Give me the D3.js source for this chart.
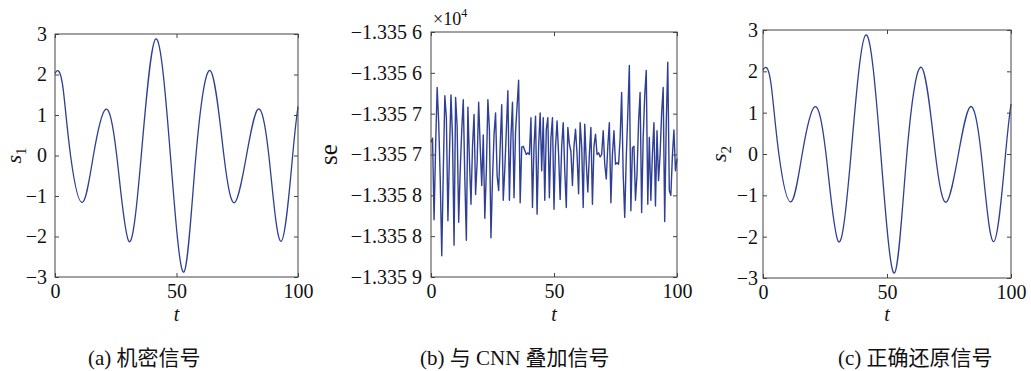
<!DOCTYPE html>
<html>
<head>
<meta charset="utf-8">
<script src="https://cdn.jsdelivr.net/npm/d3@7"></script>
<style>
  body { margin: 0; background: #fff; }
  svg text { font-family: "Liberation Serif", "Times New Roman", Times, serif !important; fill: #111; }
  svg text.cap { font-family: "Liberation Serif", "Noto Sans CJK SC", serif !important; }
</style>
</head>
<body>
<svg id="chart" width="1031" height="371"></svg>
<script>
// (a) secret signal s1, read at its turning points and zero crossings
const s1T = [0, 1.4, 3.4, 6.4, 11.2, 15.8, 20.8, 25.4, 30.4, 35.5, 41.5, 47.5, 53.0, 58.0, 64.0, 69.5, 74.0, 78.8, 83.5, 88.0, 93.0, 97.8, 100];
const s1V = [2.03, 2.09, 1.62, 0, -1.16, 0, 1.14, 0, -2.12, 0, 2.88, 0, -2.88, 0, 2.09, 0, -1.16, 0, 1.14, 0, -2.12, 0, 1.21];
// (c) recovered signal s2 - same shape as s1
const s2T = [0, 1.4, 3.4, 6.4, 11.2, 15.8, 20.8, 25.4, 30.4, 35.5, 41.5, 47.5, 53.0, 58.0, 64.0, 69.5, 74.0, 78.8, 83.5, 88.0, 93.0, 97.8, 100];
const s2V = [2.03, 2.09, 1.62, 0, -1.16, 0, 1.14, 0, -2.12, 0, 2.88, 0, -2.88, 0, 2.09, 0, -1.16, 0, 1.14, 0, -2.12, 0, 1.21];

// (b) signal mixed with CNN, sampled every seStep
const seStep = 0.625;
const seV = [
  -13356.85, -13356.8, -13357.8, -13356.9, -13356.18, -13356.61, -13357.3, -13358.24, -13357.2, -13356.28,
  -13356.55, -13357.81, -13357, -13356.27, -13356.8, -13358.11, -13356.3, -13356.65, -13357.83, -13357.2,
  -13356.7, -13356.33, -13357.3, -13358.05, -13356.42, -13357.07, -13357.61, -13356.9, -13356.51, -13357.49,
  -13357.1, -13356.36, -13356.9, -13357.38, -13356.76, -13357.78, -13357.2, -13356.33, -13356.7, -13358.02,
  -13357.3,
  -13356.76, -13356.49, -13357.26, -13357.44, -13356.9, -13356.39, -13357.56, -13357.18, -13356.7, -13356.22,
  -13357.56, -13356.78, -13356.36, -13357.53, -13356.72, -13356.4, -13356.09, -13357.59, -13356.91, -13356.9,
  -13356.95, -13357, -13356.98, -13357, -13356.55, -13357.65, -13356.9, -13356.53, -13357.73, -13356.9,
  -13356.49, -13357.2, -13356.55, -13357.56, -13356.69, -13356.55, -13357.53, -13356.8, -13356.55, -13357.67,
  -13356.9,
  -13356.59, -13357, -13357.55, -13356.9, -13356.61, -13357.2, -13357.65, -13356.67, -13356.87, -13356.96,
  -13357.38, -13356.9, -13356.69, -13357, -13357.48, -13356.61, -13356.9, -13357.65, -13356.63, -13357.1,
  -13357.46, -13357, -13356.67, -13357.61, -13356.9, -13356.75, -13357, -13356.98, -13357.03, -13357,
  -13356.71, -13357.12, -13357.3, -13356.9, -13356.61, -13357.59, -13357, -13356.71, -13357.12, -13357.1,
  -13357.12,
  -13356.8, -13356.24, -13357.24, -13357.77, -13357.04, -13356.5, -13355.91, -13357.69, -13356.92, -13356.9,
  -13357.56, -13357.24, -13356.6, -13356.24, -13357.71, -13356.8, -13356.28, -13355.97, -13357.61, -13356.79,
  -13357.56, -13357, -13356.61, -13357.63, -13356.71, -13357.32, -13357, -13356.5, -13356.18, -13357.82,
  -13356.63, -13355.87, -13357.44, -13357.5, -13357.02, -13356.7, -13357.2, -13357.05
];
const seT = seV.map((_, i) => i * seStep);

const tTicks = [0, 50, 100];
const sTicks = [-3, -2, -1, 0, 1, 2, 3];
const seTicks = [-13358.5, -13358, -13357.5, -13357, -13356.5, -13356, -13355.5];
const seTickLabels = ["\u22121.335 9", "\u22121.335 8", "\u22121.335 8", "\u22121.335 7", "\u22121.335 7", "\u22121.335 6", "\u22121.335 6"];
const captions = ["(a) 机密信号", "(b) 与 CNN 叠加信号", "(c) 正确还原信号"];

const svg = d3.select("#chart");
const lineColor = "#2f3f94";
const serif = '"Liberation Serif", "Times New Roman", serif';

function drawPanel(p) {
  const x = d3.scaleLinear().domain([0, 100]).range([p.x0, p.x1]);
  const y = d3.scaleLinear().domain(p.yDomain).range([p.y1, p.y0]);
  const g = svg.append("g");

  const line = d3.line()
    .x(d => x(d[0]))
    .y(d => y(d[1]))
    .curve(p.curve);
  g.append("path")
    .datum(d3.zip(p.t, p.v))
    .attr("d", line)
    .attr("fill", "none")
    .attr("stroke", lineColor)
    .attr("stroke-width", p.sw)
    .attr("stroke-linejoin", "round");

  const styleAxis = a => {
    a.attr("font-family", serif).attr("font-size", 20);
    a.select(".domain").remove();
    a.selectAll("line").attr("stroke", "#444");
    a.selectAll("text").attr("fill", "#111");
  };

  g.append("g").attr("transform", `translate(0,${p.y1})`)
    .call(d3.axisBottom(x).tickValues(tTicks).tickSizeInner(-4).tickSizeOuter(0).tickPadding(7))
    .call(styleAxis);
  g.append("g").attr("transform", `translate(0,${p.y0})`)
    .call(d3.axisTop(x).tickValues(tTicks).tickSizeInner(-4).tickSizeOuter(0).tickFormat(""))
    .call(styleAxis);
  g.append("g").attr("transform", `translate(${p.x0},0)`)
    .call(d3.axisLeft(y).tickValues(p.yTicks).tickSizeInner(-4).tickSizeOuter(0).tickPadding(p.pad).tickFormat(p.yFmt))
    .call(styleAxis);
  g.append("g").attr("transform", `translate(${p.x1},0)`)
    .call(d3.axisRight(y).tickValues(p.yTicks).tickSizeInner(-4).tickSizeOuter(0).tickFormat(""))
    .call(styleAxis);

  g.append("rect")
    .attr("x", p.x0).attr("y", p.y0)
    .attr("width", p.x1 - p.x0).attr("height", p.y1 - p.y0)
    .attr("fill", "none").attr("stroke", "#444").attr("stroke-width", 1);

  g.append("text")
    .attr("x", (p.x0 + p.x1) / 2).attr("y", 321)
    .attr("text-anchor", "middle")
    .style("font-size", "20px").style("font-style", "italic")
    .text("t");

  const yl = g.append("text")
    .attr("transform", `translate(${p.labelX},${(p.y0 + p.y1) / 2}) rotate(-90)`)
    .attr("text-anchor", "middle");
  if (p.sub) {
    yl.append("tspan").style("font-size", "22px").style("font-style", "italic").text("s");
    yl.append("tspan").style("font-size", "15px").attr("dy", 5).text(p.sub);
  } else {
    yl.append("tspan").style("font-size", "25px").text(p.label);
  }
  return g;
}

drawPanel({ x0: 55, x1: 298, y0: 34, y1: 277, t: s1T, v: s1V, yDomain: [-3, 3], yTicks: sTicks,
  yFmt: d3.format("d"), pad: 8, curve: d3.curveNatural, sw: 1.3, labelX: 21, sub: "1" });

const g2 = drawPanel({ x0: 431, x1: 677, y0: 32, y1: 277, t: seT, v: seV, yDomain: [-13358.5, -13355.5],
  yTicks: seTicks, yFmt: (d, i) => seTickLabels[i], pad: 9, curve: d3.curveLinear, sw: 1.4, labelX: 337, label: "se" });

const ex = g2.append("text").attr("x", 433).attr("y", 25);
ex.append("tspan").style("font-size", "18px").text("\u00d710");
ex.append("tspan").style("font-size", "12px").attr("dy", -8).text("4");

drawPanel({ x0: 763, x1: 1011, y0: 30, y1: 278, t: s2T, v: s2V, yDomain: [-3, 3], yTicks: sTicks,
  yFmt: d3.format("d"), pad: 5, curve: d3.curveNatural, sw: 1.3, labelX: 726, sub: "2" });

const capX = [88, 420, 838];
svg.selectAll("text.cap").data(captions).join("text")
  .attr("class", "cap")
  .attr("x", (d, i) => capX[i]).attr("y", 365)
  .style("font-size", "21px")
  .text(d => d);
</script>
</body>
</html>
